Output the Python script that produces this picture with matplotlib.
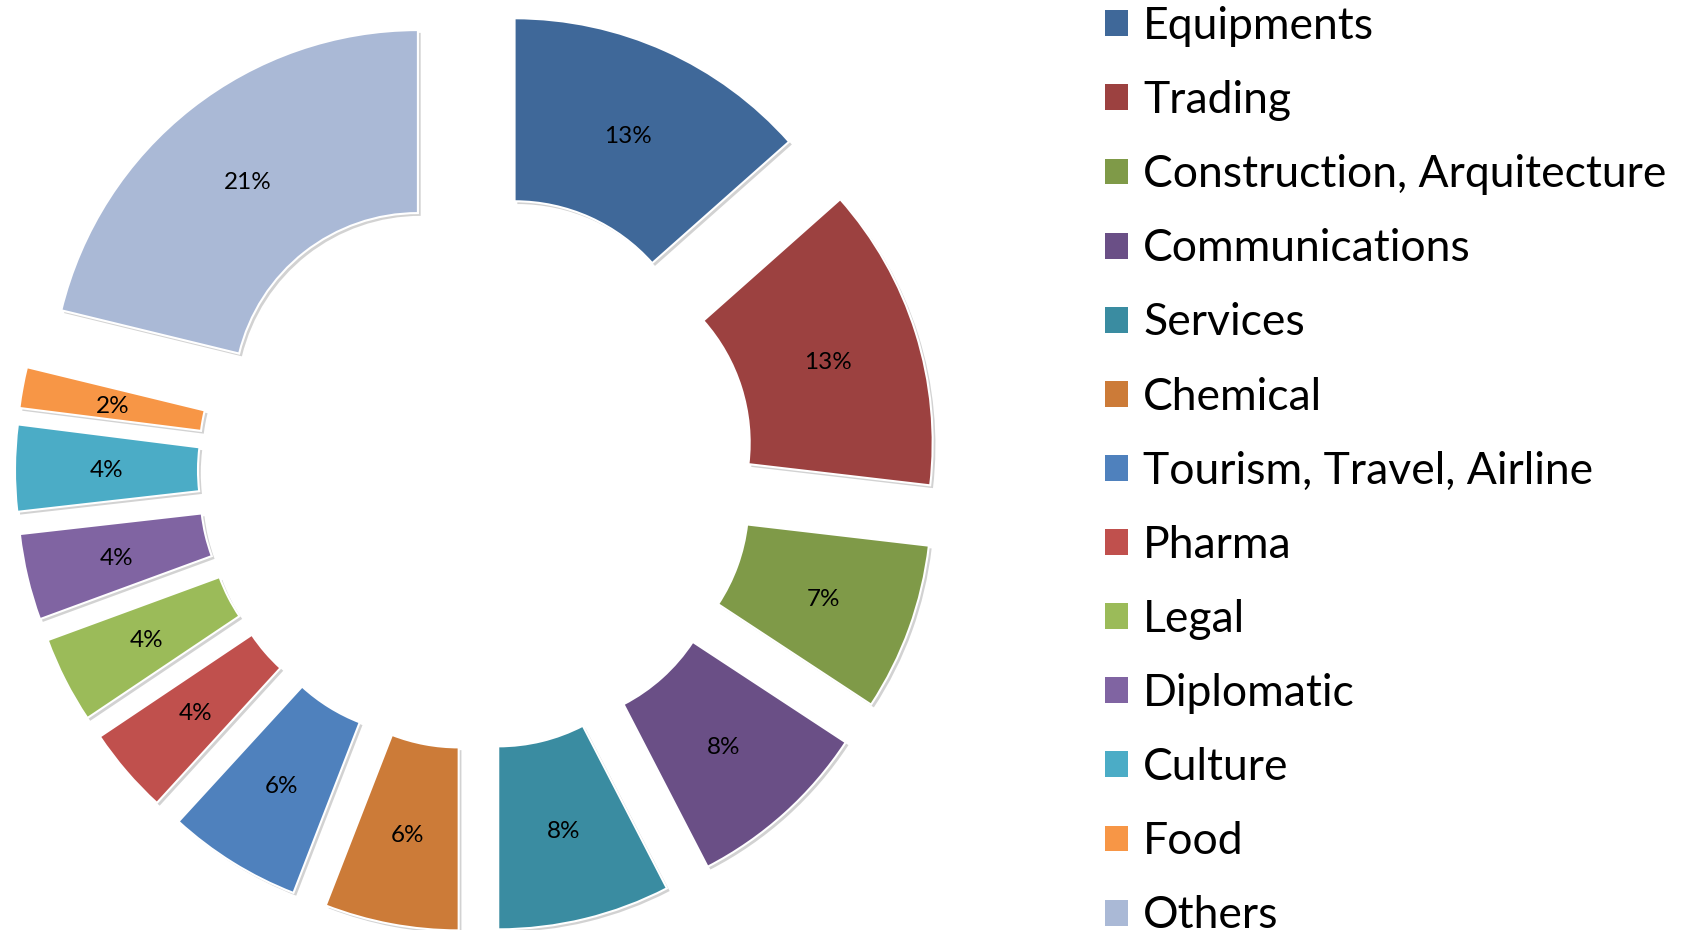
import matplotlib
matplotlib.use("Agg")
import matplotlib.pyplot as plt
import matplotlib.patches as mpatches
import matplotlib.patheffects as pe

plt.rcParams['font.family'] = ['Lato', 'DejaVu Sans']

# shares in percent (labels show them rounded)
categories = ["Equipments", "Trading", "Construction, Arquitecture", "Communications",
              "Services", "Chemical", "Tourism, Travel, Airline", "Pharma", "Legal",
              "Diplomatic", "Culture", "Food", "Others"]
shares = [13.45, 13.4, 7.4, 8.15, 7.6, 5.9, 5.9, 3.8, 3.8, 3.8, 3.8, 1.8, 21.2]
colors = ["#3F6899", "#9C4140", "#7F9A48", "#6A4F86", "#3A8CA1", "#CC7B38",
          "#4F81BD", "#C0504D", "#9BBB59", "#8064A2", "#4BACC6", "#F79646", "#AAB9D6"]

W, H = 1682, 930
fig = plt.figure(figsize=(W / 100, H / 100), dpi=100)
ax = fig.add_axes((0, 0, 1, 1))

# axes in pixel units so radius / explode are easy to set
outer = 367
ring = 183
gap = 94
wedges, texts, pcts = ax.pie(shares, colors=colors, radius=outer, center=(476, 459),
                             startangle=90, counterclock=False,
                             explode=[gap] * len(shares),
                             autopct="%.0f%%", pctdistance=0.75,
                             wedgeprops=dict(width=ring, edgecolor="white", linewidth=1.5),
                             textprops=dict(fontsize=17.5, color="black"),
                             frame=True)
for w in wedges:
    w.set_path_effects([pe.SimplePatchShadow(offset=(2, -2), shadow_rgbFace="#808080", alpha=0.35),
                        pe.Normal()])
for t in pcts:
    t.set_va("center_baseline")

ax.set_xlim(0, W)
ax.set_ylim(0, H)
ax.set_aspect("equal")
ax.axis("off")

handles = [mpatches.Patch(facecolor=c, edgecolor="none") for c in colors]
ax.legend(handles, categories, loc="upper left", bbox_to_anchor=(1105 / W, 1 - 6 / H),
          frameon=False, fontsize=32, handlelength=0.52, handleheight=0.52,
          handletextpad=0.34, labelspacing=0.745, borderpad=0, borderaxespad=0)

fig.savefig("out.png", dpi=100, facecolor="white")
